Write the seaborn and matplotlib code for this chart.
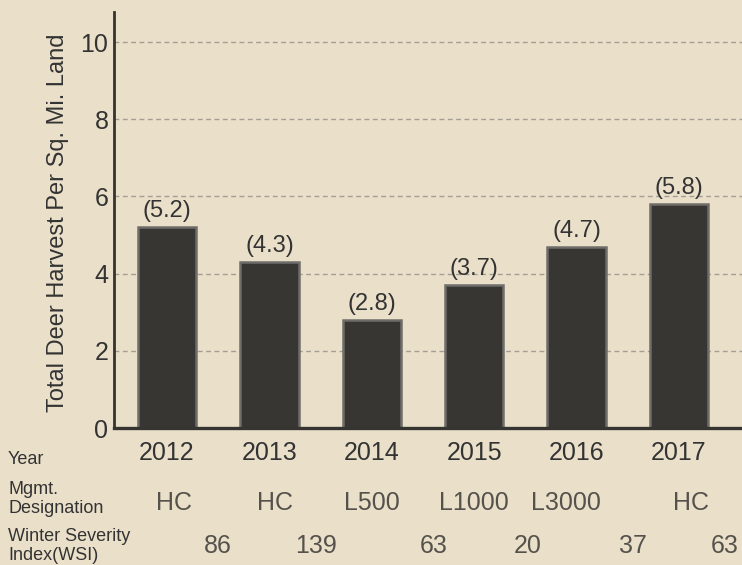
import numpy as np
import pandas as pd
import matplotlib
matplotlib.use("Agg")
from matplotlib import pyplot as plt
import matplotlib.transforms as mtransforms
import seaborn as sns

# chart data
years = ["2012", "2013", "2014", "2015", "2016", "2017"]
harvest = [5.2, 4.3, 2.8, 3.7, 4.7, 5.8]
mgmt = ["HC", "HC", "L500", "L1000", "L3000", "HC"]
wsi = ["86", "139", "63", "20", "37", "63"]
y_ticks = [0, 2, 4, 6, 8, 10]

# where the table texts sit along the category axis
mgmt_pos = [0.07, 1.05, 2.0, 3.0, 3.9, 5.12]
wsi_pos = [0.5, 1.45, 2.6, 3.52, 4.55, 5.45]

bg = "#EAE0CA"
dark = "#363430"
text_col = "#333333"
soft_text = "#55524c"

sns.set_theme(style="white", rc={"axes.facecolor": bg, "figure.facecolor": bg})
plt.rcParams["font.family"] = ["Liberation Sans", "DejaVu Sans"]

df = pd.DataFrame({"Year": years, "Harvest": harvest})

fig = plt.figure(figsize=(7.42, 5.65), dpi=100)
ax = fig.add_axes([114 / 742, 137 / 565, 628 / 742, 416 / 565])

sns.barplot(
    data=df, x="Year", y="Harvest", ax=ax,
    color="#383632", saturation=1, width=0.57,
    edgecolor="#6e6d6a", linewidth=1.8,
)

# labels above bars
ax.bar_label(ax.containers[0], fmt="(%.1f)", padding=3.5, fontsize=17, color=text_col)

ax.set_xlim(-0.518, 5.615)
ax.set_ylim(0, 10.78)
ax.set_yticks(y_ticks)

# dashed horizontal grid
ax.set_axisbelow(True)
ax.yaxis.grid(True, linestyle=(0, (3.5, 2.5)), linewidth=1, color="#a39d92")
ax.xaxis.grid(False)

for side in ["top", "right"]:
    ax.spines[side].set_visible(False)
ax.spines["left"].set_color(dark)
ax.spines["left"].set_linewidth(2)
ax.spines["bottom"].set_color(dark)
ax.spines["bottom"].set_linewidth(2.4)

ax.tick_params(axis="y", length=0, pad=4, labelsize=18, labelcolor=text_col)
ax.tick_params(axis="x", length=0, pad=9.5, labelsize=18, labelcolor=text_col)

ax.set_xlabel("")
ax.set_ylabel("Total Deer Harvest Per Sq. Mi. Land", fontsize=17, color=text_col)
ax.yaxis.set_label_coords(-0.071, 0.493)

# table rows below the axis
fig.text(8 / 742, 0.1876, "Year", fontsize=13, color=text_col, va="center", ha="left")
fig.text(8 / 742, 0.1168, "Mgmt.\nDesignation", fontsize=13, color=text_col,
         va="center", ha="left")
fig.text(8 / 742, 1.5 / 565, "Winter Severity\nIndex(WSI)", fontsize=13, color=text_col,
         va="bottom", ha="left", linespacing=1.1)

trans = mtransforms.blended_transform_factory(ax.transData, fig.transFigure)
for x, label in zip(mgmt_pos, mgmt):
    ax.text(x, 0.1097, label, transform=trans, fontsize=18,
            color=soft_text, ha="center", va="center", clip_on=False)
for x, label in zip(wsi_pos, wsi):
    ax.text(x, 0.0336, label, transform=trans, fontsize=18,
            color=soft_text, ha="center", va="center", clip_on=False)

plt.savefig("out.png", dpi=100, facecolor=bg)
